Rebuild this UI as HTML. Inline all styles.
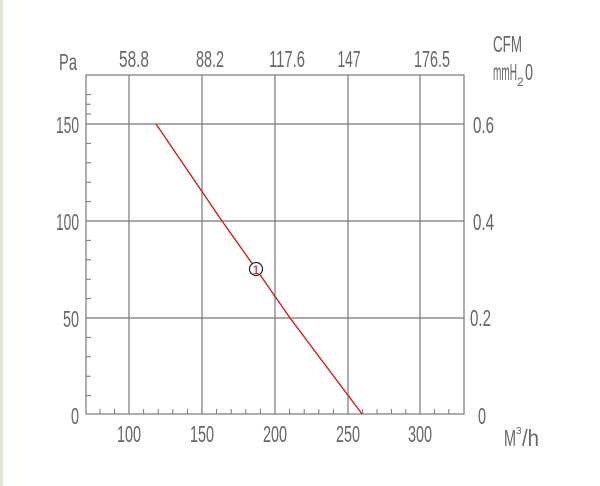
<!DOCTYPE html>
<html><head><meta charset="utf-8"><style>
html,body{margin:0;padding:0;background:#fff;}
svg{display:block;}
text{font-family:"Liberation Sans",sans-serif;fill:#666;font-size:23px;}
</style></head><body>
<svg width="600" height="486" viewBox="0 0 600 486" xmlns="http://www.w3.org/2000/svg">
<rect x="0" y="0" width="600" height="486" fill="#fff"/>
<line x1="1.5" y1="0" x2="1.5" y2="486" stroke="#dbe8cf" stroke-width="3"/>
<g stroke="#777" stroke-width="1.2" fill="none">
<rect x="86" y="75" width="378" height="339"/>
<line x1="129" y1="75" x2="129" y2="414"/>
<line x1="202" y1="75" x2="202" y2="414"/>
<line x1="275" y1="75" x2="275" y2="414"/>
<line x1="348" y1="75" x2="348" y2="414"/>
<line x1="420" y1="75" x2="420" y2="414"/>
<line x1="86" y1="124" x2="464" y2="124"/>
<line x1="86" y1="221" x2="464" y2="221"/>
<line x1="86" y1="318" x2="464" y2="318"/>
</g>
<g stroke="#777" stroke-width="1">
<path d="M86 94.6h5M86 104.3h5M86 114h5M86 143.4h5M86 162.8h5M86 182.2h5M86 201.6h5M86 240.4h5M86 259.8h5M86 279.2h5M86 298.6h5M86 337.4h5M86 356.8h5M86 376.2h5M86 395.6h5"/>
<path d="M100 414v-5M114.5 414v-5M143.6 414v-5M158.2 414v-5M172.8 414v-5M187.4 414v-5M216.6 414v-5M231.2 414v-5M245.8 414v-5M260.4 414v-5M289.6 414v-5M304.2 414v-5M318.8 414v-5M333.4 414v-5M362.6 414v-5M377 414v-5M391.4 414v-5M405.8 414v-5M434.4 414v-5M448.8 414v-5"/>
</g>
<polyline points="156,124 222,221 256,269 290,318 362,414" fill="none" stroke="#e01010" stroke-width="1.3"/>
<circle cx="256" cy="269" r="6.5" fill="#fff" stroke="#222" stroke-width="1.2"/>
<text x="256" y="274" text-anchor="middle" style="font-size:12px;fill:#c00">1</text>
<text x="59" y="70" textLength="18" lengthAdjust="spacingAndGlyphs">Pa</text>
<text x="134" y="67" text-anchor="middle" textLength="30" lengthAdjust="spacingAndGlyphs">58.8</text>
<text x="210" y="67" text-anchor="middle" textLength="28" lengthAdjust="spacingAndGlyphs">88.2</text>
<text x="287" y="67" text-anchor="middle" textLength="36" lengthAdjust="spacingAndGlyphs">117.6</text>
<text x="349" y="67" text-anchor="middle" textLength="23" lengthAdjust="spacingAndGlyphs">147</text>
<text x="432" y="67" text-anchor="middle" textLength="36" lengthAdjust="spacingAndGlyphs">176.5</text>
<text x="493" y="52" textLength="29" lengthAdjust="spacingAndGlyphs">CFM</text>
<text x="493" y="80" textLength="24" lengthAdjust="spacingAndGlyphs">mmH</text>
<text x="517" y="86" style="font-size:12px">2</text>
<text x="525" y="80" textLength="8" lengthAdjust="spacingAndGlyphs">0</text>
<text x="79" y="133" text-anchor="end" textLength="23" lengthAdjust="spacingAndGlyphs">150</text>
<text x="79" y="230" text-anchor="end" textLength="23" lengthAdjust="spacingAndGlyphs">100</text>
<text x="79" y="327" text-anchor="end" textLength="16" lengthAdjust="spacingAndGlyphs">50</text>
<text x="79" y="424" text-anchor="end" textLength="8" lengthAdjust="spacingAndGlyphs">0</text>
<text x="473" y="133" textLength="21" lengthAdjust="spacingAndGlyphs">0.6</text>
<text x="473" y="230" textLength="21" lengthAdjust="spacingAndGlyphs">0.4</text>
<text x="470" y="326" textLength="21" lengthAdjust="spacingAndGlyphs">0.2</text>
<text x="478" y="424" textLength="8" lengthAdjust="spacingAndGlyphs">0</text>
<text x="129" y="442" text-anchor="middle" textLength="24" lengthAdjust="spacingAndGlyphs">100</text>
<text x="202" y="442" text-anchor="middle" textLength="24" lengthAdjust="spacingAndGlyphs">150</text>
<text x="275" y="442" text-anchor="middle" textLength="24" lengthAdjust="spacingAndGlyphs">200</text>
<text x="348" y="442" text-anchor="middle" textLength="24" lengthAdjust="spacingAndGlyphs">250</text>
<text x="420" y="442" text-anchor="middle" textLength="24" lengthAdjust="spacingAndGlyphs">300</text>
<text x="504" y="446" textLength="12" lengthAdjust="spacingAndGlyphs">M</text>
<text x="516" y="434" style="font-size:10px">3</text>
<text x="522" y="446" textLength="17" lengthAdjust="spacingAndGlyphs">/h</text>
</svg>
</body></html>
